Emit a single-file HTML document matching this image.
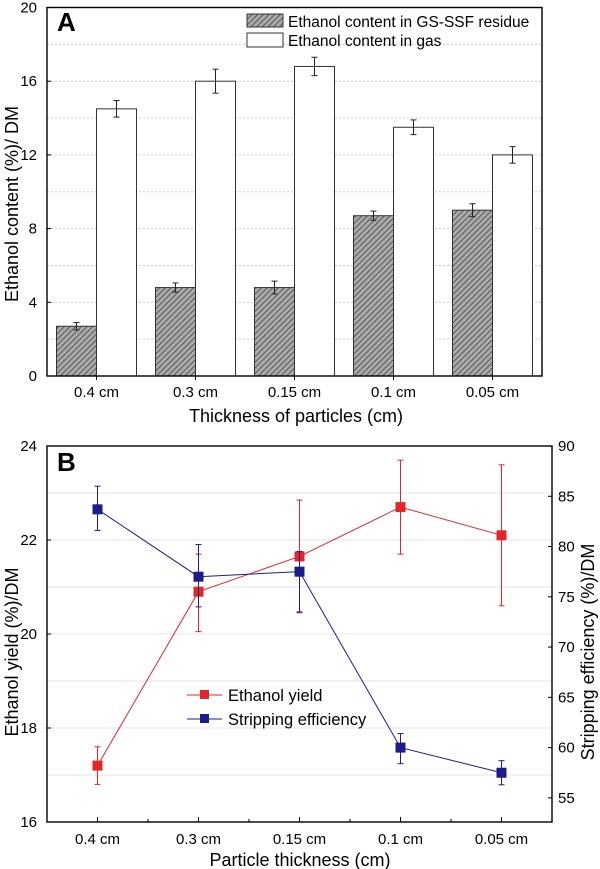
<!DOCTYPE html>
<html><head><meta charset="utf-8"><style>
body{margin:0;background:#fff}
svg{display:block;font-family:"Liberation Sans",Arial,sans-serif}
</style></head><body>
<svg id="chart" width="600" height="869" viewBox="0 0 600 869">
<defs><pattern id="hatch" width="4" height="4" patternUnits="userSpaceOnUse" patternTransform="rotate(45)"><rect width="4" height="4" fill="#aaa"/><line x1="0" y1="0" x2="0" y2="4" stroke="#444" stroke-width="1.6"/></pattern></defs>
<g id="gA"></g>
<g id="gB"></g>
</svg>
<script>
const catsA=["0.4 cm","0.3 cm","0.15 cm","0.1 cm","0.05 cm"];
const residue=[2.7,4.8,4.8,8.7,9.0];
const residueErr=[0.2,0.25,0.35,0.25,0.35];
const gas=[14.5,16.0,16.8,13.5,12.0];
const gasErr=[0.45,0.65,0.5,0.4,0.45];
const ticksA=[0,4,8,12,16,20];
const catsB=["0.4 cm","0.3 cm","0.15 cm","0.1 cm","0.05 cm"];
const yieldV=[17.2,20.9,21.65,22.7,22.1];
const yieldLo=[16.8,20.05,20.45,21.7,20.6];
const yieldHi=[17.6,21.7,22.85,23.7,23.6];
const strip=[83.7,77.0,77.5,60.0,57.5];
const stripLo=[81.6,74.0,73.5,58.4,56.3];
const stripHi=[86.0,80.2,79.5,61.4,58.7];
const ticksBL=[16,18,20,22,24];
const ticksBR=[55,60,65,70,75,80,85,90];

const NS="http://www.w3.org/2000/svg";
function mk(p,t,a,txt){const e=document.createElementNS(NS,t);for(const k in a)e.setAttribute(k,a[k]);if(txt!=null)e.textContent=txt;p.appendChild(e);return e;}

// ---- Chart A
const A=document.getElementById('gA');
const ax0=47,ax1=542,ay0=376,ay1=7.5;
const yA=v=>ay0-(v/20)*(ay0-ay1);
const bw=(ax1-ax0)/catsA.length;
const cA=i=>ax0+bw*(i+0.5);
for(let v=2;v<20;v+=2){const l=mk(A,'line',{x1:ax0,x2:ax1,y1:yA(v),y2:yA(v),stroke:'#ccc','stroke-dasharray':'2,2'});

}
function errbar(p,x,lo,hi,col,name){const g=mk(p,'g',{stroke:col,'stroke-width':1});


mk(g,'line',{x1:x,x2:x,y1:lo,y2:hi});mk(g,'line',{x1:x-3,x2:x+3,y1:lo,y2:lo});mk(g,'line',{x1:x-3,x2:x+3,y1:hi,y2:hi});}
catsA.forEach((c,i)=>{
 const xc=cA(i);
 const r=mk(A,'rect',{x:xc-40,y:yA(residue[i]),width:40,height:ay0-yA(residue[i]),fill:'url(#hatch)',stroke:'#333'});
 
 
 const g=mk(A,'rect',{x:xc,y:yA(gas[i]),width:40,height:ay0-yA(gas[i]),fill:'#fff',stroke:'#333'});
 
 
 errbar(A,xc-20,yA(residue[i]-residueErr[i]),yA(residue[i]+residueErr[i]),'#222','error-bar-residue');
 errbar(A,xc+20,yA(gas[i]-gasErr[i]),yA(gas[i]+gasErr[i]),'#222','error-bar-gas');
 const t=mk(A,'text',{x:xc,y:397,'text-anchor':'middle','font-size':15},c);
 
 
 mk(A,'line',{x1:xc,x2:xc,y1:ay0,y2:ay0+4,stroke:'#000'});
});
ticksA.forEach(v=>{const t=mk(A,'text',{x:37,y:yA(v)+5,'text-anchor':'end','font-size':15},String(v));


mk(A,'line',{x1:ax0,x2:ax0+4,y1:yA(v),y2:yA(v),stroke:'#000'});});
mk(A,'rect',{x:ax0,y:ay1,width:ax1-ax0,height:ay0-ay1,fill:'none',stroke:'#000','stroke-width':1.4});
let t=mk(A,'text',{x:296,y:422,'text-anchor':'middle','font-size':18},'Thickness of particles (cm)');

t=mk(A,'text',{x:0,y:0,transform:'translate(18,204) rotate(-90)','text-anchor':'middle','font-size':18},'Ethanol content (%)/ DM');

t=mk(A,'text',{x:57,y:31,'font-size':26,'font-weight':'bold'},'A');

let lg=mk(A,'g',{});
mk(lg,'rect',{x:247,y:14,width:36,height:13,fill:'url(#hatch)',stroke:'#333'});
mk(lg,'text',{x:288,y:27,'font-size':15.5},'Ethanol content in GS-SSF residue');
mk(lg,'rect',{x:247,y:33,width:36,height:14,fill:'#fff',stroke:'#333'});
mk(lg,'text',{x:288,y:46,'font-size':15.5},'Ethanol content in gas');

// ---- Chart B
const B=document.getElementById('gB');
const bx0=47,bx1=552,by0=822,by1=446;
const yL=v=>by0-(v-16)/8*(by0-by1);
const yR=v=>by1+(90-v)*((by0-by1)/37.4);
const sw=(bx1-bx0)/catsB.length;
const cB=i=>bx0+sw*(i+0.5);
for(let v=17;v<24;v++){const l=mk(B,'line',{x1:bx0,x2:bx1,y1:yL(v),y2:yL(v),stroke:'#e4e4e4'});
}
ticksBL.forEach(v=>{const t=mk(B,'text',{x:37,y:yL(v)+5,'text-anchor':'end','font-size':15},String(v));

mk(B,'line',{x1:bx0,x2:bx0+4,y1:yL(v),y2:yL(v),stroke:'#000'});});
ticksBR.forEach(v=>{const t=mk(B,'text',{x:558,y:yR(v)+5,'font-size':15},String(v));

mk(B,'line',{x1:bx1-4,x2:bx1,y1:yR(v),y2:yR(v),stroke:'#000'});});
catsB.forEach((c,i)=>{const t=mk(B,'text',{x:cB(i),y:844,'text-anchor':'middle','font-size':15},c);

mk(B,'line',{x1:cB(i),x2:cB(i),y1:by0,y2:by0-5,stroke:'#000'});
if(i<catsB.length-1)mk(B,'line',{x1:cB(i)+sw/2,x2:cB(i)+sw/2,y1:by0,y2:by0-3,stroke:'#000'});});
function series(vals,lo,hi,ys,col,name){
 const pts=vals.map((v,i)=>cB(i)+','+ys(v)).join(' ');
 const pl=mk(B,'polyline',{points:pts,fill:'none',stroke:col,'stroke-width':1});
 
 vals.forEach((v,i)=>{errbar(B,cB(i),ys(lo[i]),ys(hi[i]),col,name+'-error-bar');
  const m=mk(B,'rect',{x:cB(i)-5,y:ys(v)-5,width:10,height:10,fill:col});
  });
}
series(yieldV,yieldLo,yieldHi,yL,'#e3262b','ethanol-yield');
series(strip,stripLo,stripHi,yR,'#1c1c8c','stripping-efficiency');
mk(B,'rect',{x:bx0,y:by1,width:bx1-bx0,height:by0-by1,fill:'none',stroke:'#000','stroke-width':1.4});
lg=mk(B,'g',{});
mk(lg,'line',{x1:187,x2:222,y1:695,y2:695,stroke:'#e3262b'});mk(lg,'rect',{x:200,y:690,width:9,height:9,fill:'#e3262b'});
mk(lg,'text',{x:228,y:701,'font-size':16.5},'Ethanol yield');
mk(lg,'line',{x1:187,x2:222,y1:719,y2:719,stroke:'#1c1c8c'});mk(lg,'rect',{x:200,y:714,width:9,height:9,fill:'#1c1c8c'});
mk(lg,'text',{x:228,y:725,'font-size':16.5},'Stripping efficiency');
t=mk(B,'text',{x:300,y:866,'text-anchor':'middle','font-size':18},'Particle thickness (cm)');

t=mk(B,'text',{x:0,y:0,transform:'translate(18,652) rotate(-90)','text-anchor':'middle','font-size':18},'Ethanol yield (%)/DM');

t=mk(B,'text',{x:0,y:0,transform:'translate(594,652) rotate(-90)','text-anchor':'middle','font-size':18},'Stripping efficiency (%)/DM');

t=mk(B,'text',{x:57,y:471,'font-size':26,'font-weight':'bold'},'B');

</script>
</body></html>
